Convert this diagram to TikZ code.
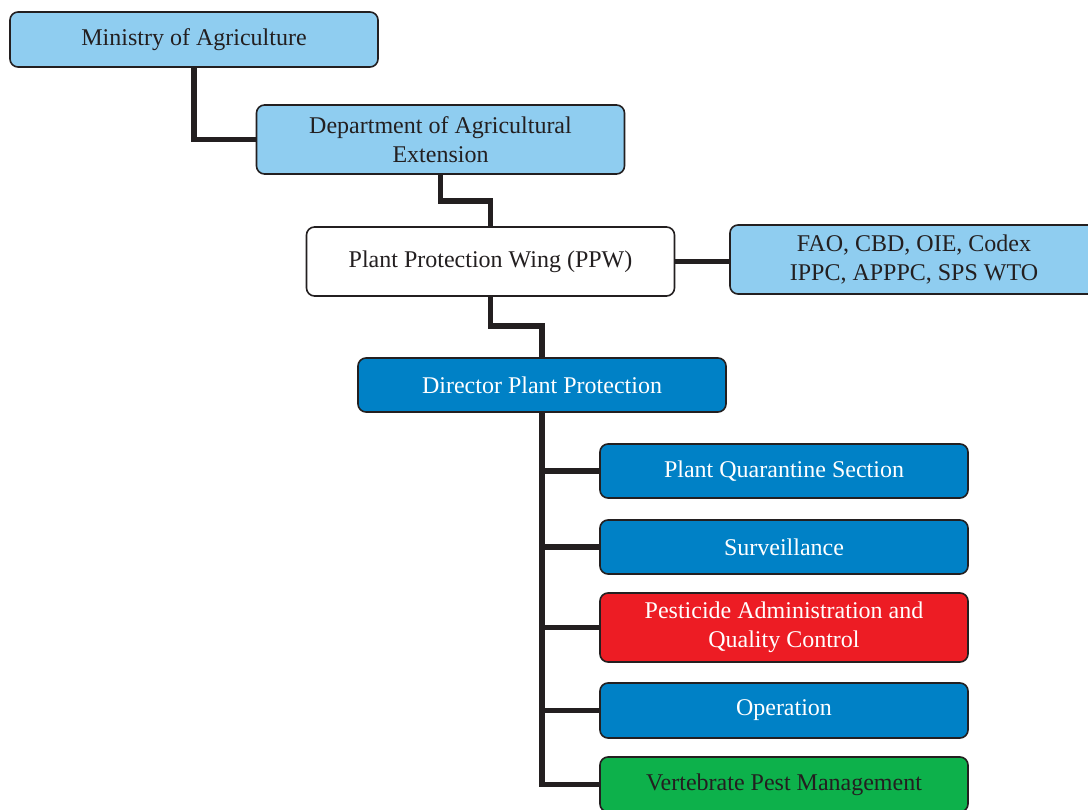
\documentclass[tikz,border=0pt]{standalone}
\usepackage{fontspec}
\setmainfont{Liberation Serif}
\definecolor{lblue}{RGB}{143,205,240}
\definecolor{dblue}{RGB}{0,129,198}
\definecolor{bred}{RGB}{237,28,36}
\definecolor{bgreen}{RGB}{13,177,75}
\definecolor{ink}{RGB}{35,31,32}
\tikzset{
  box/.style={draw=ink, line width=1.6pt, rounded corners=8pt, minimum width=368pt,
    align=center, inner sep=0pt, font=\fontsize{24}{29}\selectfont},
  light/.style={box, fill=lblue, text=ink},
  plain/.style={box, fill=white, text=ink},
  dark/.style={box, fill=dblue, text=white},
  redbox/.style={box, fill=bred, text=white},
  greenbox/.style={box, fill=bgreen, text=ink},
  conn/.style={draw=ink, line width=5.5pt}
}
\begin{document}
\begin{tikzpicture}[x=1pt,y=-1pt]
\path[use as bounding box, clip] (0,0) rectangle (1088,810);
\node[light, minimum height=55pt] (min) at (194,39.5) {Ministry of Agriculture};
\node[light, minimum height=69pt] (dept) at (440.5,139.5) {Department of Agricultural\\Extension};
\node[plain, minimum height=69pt] (ppw) at (490.5,261.5) {Plant Protection Wing (PPW)};
\node[light, minimum height=69pt] (fao) at (914,259.5) {FAO, CBD, OIE, Codex\\IPPC, APPPC, SPS WTO};
\node[dark, minimum height=54pt] (dir) at (542,385) {Director Plant Protection};
\node[dark, minimum height=54pt] (pq) at (784,471) {Plant Quarantine Section};
\node[dark, minimum height=54pt] (surv) at (784,547) {Surveillance};
\node[redbox, minimum height=69pt] (pest) at (784,627.5) {Pesticide Administration and\\Quality Control};
\node[dark, minimum height=55pt] (op) at (784,710.5) {Operation};
\node[greenbox, minimum height=55pt] (vert) at (784,784.5) {Vertebrate Pest Management};
\coordinate (k1) at (0,201);
\coordinate (k2) at (0,326);
\draw[conn] (min.south) |- (dept.west);
\draw[conn] (dept.south) -- (dept.south |- k1) -| (ppw.north);
\draw[conn] (ppw.east) -- (ppw.east -| fao.west);
\draw[conn] (ppw.south) -- (ppw.south |- k2) -| (dir.north);
\draw[conn] (dir.south) |- (vert.west);
\draw[conn] (dir.south |- pq.west) -- (pq.west);
\draw[conn] (dir.south |- surv.west) -- (surv.west);
\draw[conn] (dir.south |- pest.west) -- (pest.west);
\draw[conn] (dir.south |- op.west) -- (op.west);
\end{tikzpicture}
\end{document}
